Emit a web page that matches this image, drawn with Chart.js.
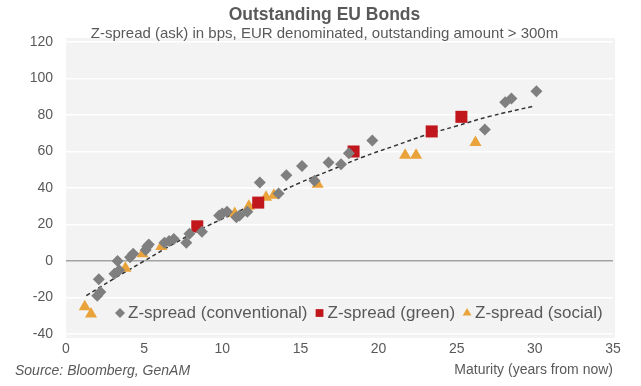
<!DOCTYPE html>
<html>
<head>
<meta charset="utf-8">
<title>Outstanding EU Bonds</title>
<script src="https://cdn.jsdelivr.net/npm/chart.js@4.4.1/dist/chart.umd.min.js"></script>
<style>
  html, body { margin: 0; padding: 0; background: #fff; }
  .chart-box { width: 641px; height: 386px; }
</style>
</head>
<body>
<div class="chart-box"><canvas id="bonds"></canvas></div>
<script>
// maturity (years) / z-spread (bps)
const convX = [2.0, 2.2, 2.1, 3.1, 3.4, 3.3, 4.1, 4.3, 5.1, 5.2, 5.3, 6.3, 6.6, 6.9, 7.7, 7.9, 8.7, 9.8, 10.0, 10.3, 10.9, 11.1, 11.6, 12.4, 13.6, 14.1, 15.1, 15.9, 16.8, 17.6, 18.1, 19.6, 26.8, 28.1, 28.5, 30.1];
const convY = [-19, -17, -10, -7, -5, 0, 2, 4, 6, 8, 9, 10, 11, 12, 10, 15, 16, 25, 26, 27, 24, 25, 27, 43, 37, 47, 52, 44, 54, 53, 59, 66, 72, 87, 89, 93];

const greenX = [8.4, 12.3, 18.4, 23.4, 25.3];
const greenY = [19, 32, 60, 71, 79];

const socialX = [1.2, 1.6, 3.8, 4.9, 6.1, 10.8, 11.7, 12.8, 13.3, 16.1, 21.7, 22.4, 26.2];
const socialY = [-25, -29, -4, 4, 8, 26, 30, 35, 36, 42, 58, 58, 65];

// dashed trend line, sampled along the curve in the picture
const trendX = [1.3, 3, 5, 7, 9, 11, 13, 15, 17, 19, 21, 23, 25, 27, 30];
const trendY = [-19, -10, 0, 10, 19, 27, 35, 43, 50, 57, 63, 69, 74, 79, 85];

const xTicks = [0, 5, 10, 15, 20, 25, 30, 35];
const yTicks = [-40, -20, 0, 20, 40, 60, 80, 100, 120];

const legendLabels = ['Z-spread (conventional)', 'Z-spread (green)', 'Z-spread (social)'];

const FONT = '"Liberation Sans", Arial, sans-serif';
const TEXT = '#595959';

const toPoints = (xs, ys) => xs.map((x, i) => ({ x: x, y: ys[i] }));

// light grey plot background
const plotBg = {
  id: 'plotBg',
  beforeDraw(chart) {
    const { ctx, chartArea: a } = chart;
    ctx.save();
    ctx.fillStyle = '#f3f3f3';
    ctx.fillRect(a.left, a.top - 4, a.right - a.left + 2, a.bottom - a.top + 8);
    ctx.restore();
  }
};

// legend sits inside the plot, plus the source note
const extras = {
  id: 'extras',
  afterDraw(chart) {
    const { ctx } = chart;
    ctx.save();
    ctx.font = '17px ' + FONT;
    ctx.textBaseline = 'middle';
    const y = chart.scales.y.getPixelForValue(-28.5);
    let x = 115;
    [0, 1, 2].forEach(i => {
      const ds = chart.data.datasets[i];
      ctx.fillStyle = ds.backgroundColor;
      Chart.helpers.drawPoint(ctx, {
        pointStyle: ds.pointStyle,
        radius: ds.pointStyle === 'rect' ? 5.5 : 5,
        rotation: 0,
        borderWidth: 0
      }, x + 5, y);
      ctx.fillStyle = TEXT;
      ctx.textAlign = 'left';
      ctx.fillText(legendLabels[i], x + 13, y);
      x += 13 + ctx.measureText(legendLabels[i]).width + 7;
    });

    ctx.font = 'italic 14px ' + FONT;
    ctx.textAlign = 'left';
    ctx.fillText('Source: Bloomberg, GenAM', 15, 371);
    ctx.restore();
  }
};

new Chart(document.getElementById('bonds'), {
  type: 'scatter',
  data: {
    datasets: [
      {
        label: legendLabels[0],
        data: toPoints(convX, convY),
        pointStyle: 'rectRot',
        pointRadius: 6,
        pointHoverRadius: 6,
        backgroundColor: '#7f7f7f',
        borderWidth: 0
      },
      {
        label: legendLabels[1],
        data: toPoints(greenX, greenY),
        pointStyle: 'rect',
        pointRadius: 8.5,
        pointHoverRadius: 8.5,
        backgroundColor: '#c0161c',
        borderWidth: 0
      },
      {
        label: legendLabels[2],
        data: toPoints(socialX, socialY),
        pointStyle: 'triangle',
        pointRadius: 7,
        pointHoverRadius: 7,
        backgroundColor: '#eaa33a',
        borderWidth: 0
      },
      {
        label: 'trend',
        data: toPoints(trendX, trendY),
        showLine: true,
        tension: 0.4,
        borderColor: '#333333',
        borderWidth: 1.5,
        borderDash: [4, 3],
        pointRadius: 0,
        pointHoverRadius: 0
      }
    ]
  },
  options: {
    responsive: true,
    maintainAspectRatio: false,
    animation: false,
    layout: { padding: { left: 8, right: 0, top: 0, bottom: 0 } },
    scales: {
      x: {
        type: 'linear',
        min: xTicks[0],
        max: xTicks[xTicks.length - 1],
        afterBuildTicks: s => { s.ticks = xTicks.map(v => ({ value: v })); },
        grid: { display: false, drawTicks: false },
        border: { display: false },
        ticks: { color: TEXT, font: { family: FONT, size: 14 }, padding: 7 },
        title: {
          display: true,
          text: 'Maturity (years from now)',
          align: 'end',
          color: TEXT,
          font: { family: FONT, size: 14 },
          padding: { top: 2, bottom: 7 }
        },
        afterFit: s => { s.height = 52; }
      },
      y: {
        min: yTicks[0],
        max: yTicks[yTicks.length - 1],
        afterBuildTicks: s => { s.ticks = yTicks.map(v => ({ value: v })); },
        grid: {
          drawTicks: false,
          color: c => (c.tick && c.tick.value === 0 ? '#a3a3a3' : '#ffffff'),
          lineWidth: 1.5
        },
        border: { display: false },
        ticks: { color: TEXT, font: { family: FONT, size: 14 }, padding: 13 },
        afterFit: s => { s.width = 58; }
      },
      // empty right-hand axis, only keeps room on the right of the plot
      yRight: {
        position: 'right',
        display: true,
        grid: { display: false, drawTicks: false },
        border: { display: false },
        ticks: { display: false },
        afterFit: s => { s.width = 28; }
      }
    },
    plugins: {
      legend: { display: false },
      tooltip: { enabled: false },
      title: {
        display: true,
        text: 'Outstanding EU Bonds',
        color: TEXT,
        font: { family: FONT, size: 17.5, weight: 'bold' },
        padding: { top: 5, bottom: 0 }
      },
      subtitle: {
        display: true,
        text: 'Z-spread (ask) in bps, EUR denominated, outstanding amount > 300m',
        color: TEXT,
        font: { family: FONT, size: 15, lineHeight: 1.0 },
        padding: { top: 0, bottom: 1 }
      }
    }
  },
  plugins: [plotBg, extras]
});
</script>
</body>
</html>
